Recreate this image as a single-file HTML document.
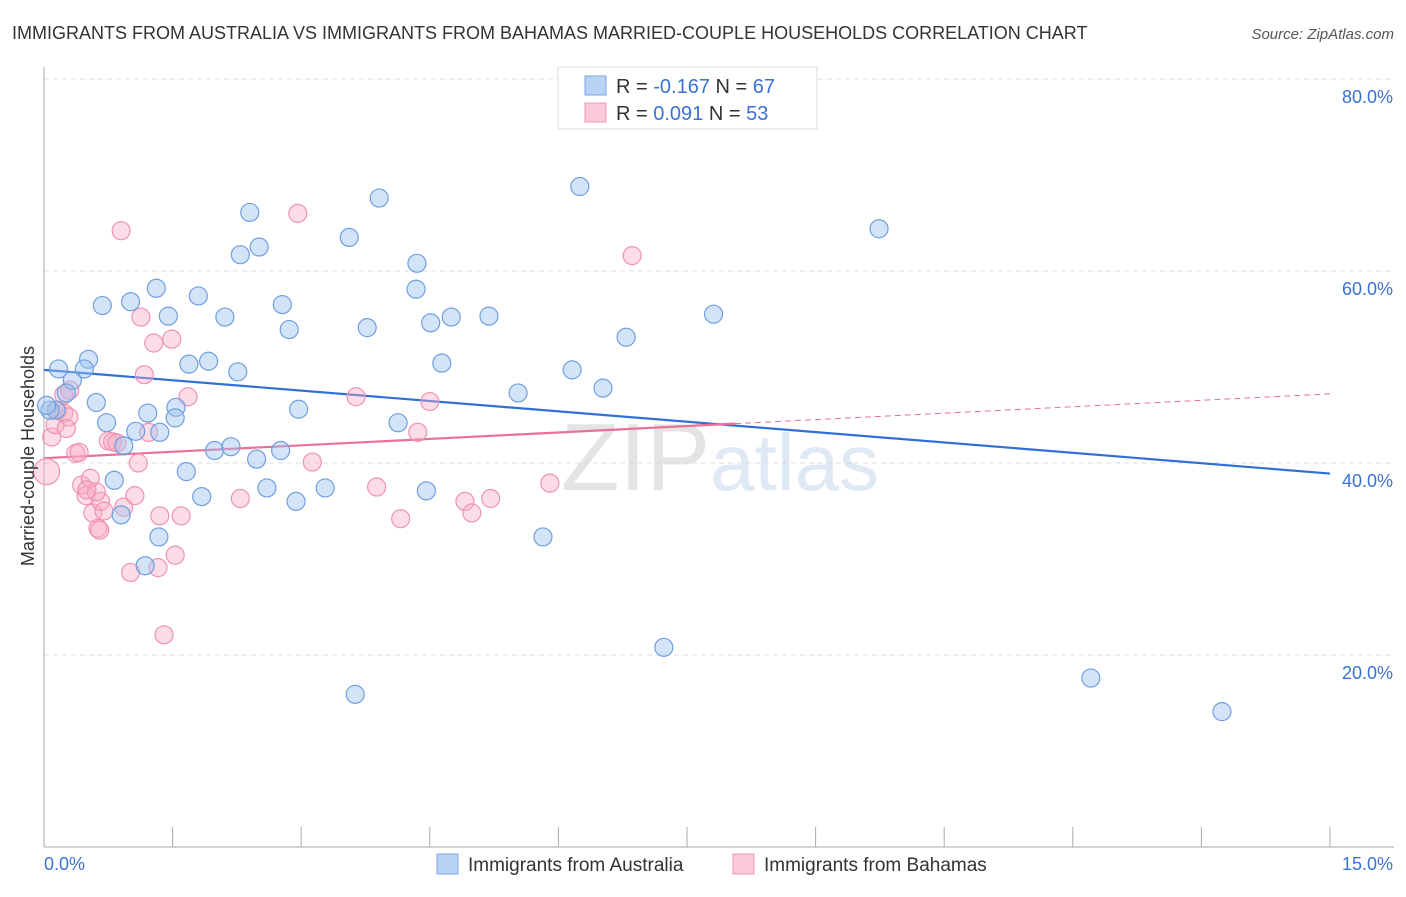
<!DOCTYPE html>
<html><head><meta charset="utf-8"><style>
body{margin:0;background:#fff;font-family:"Liberation Sans",sans-serif;}
svg text{font-family:"Liberation Sans",sans-serif;}
</style></head><body>
<svg id="chart" width="1406" height="892" viewBox="0 0 1406 892" xmlns="http://www.w3.org/2000/svg">
<text x="12" y="39" font-size="18" fill="#333">IMMIGRANTS FROM AUSTRALIA VS IMMIGRANTS FROM BAHAMAS MARRIED-COUPLE HOUSEHOLDS CORRELATION CHART</text>
<text x="1394" y="39" font-size="15" fill="#555" text-anchor="end" font-style="italic">Source: ZipAtlas.com</text>
<text x="720" y="490" font-size="96" fill="#e8ecf2" text-anchor="middle" font-family="Liberation Serif"><tspan fill="#e4e4e4">ZIP</tspan><tspan fill="#dfe8f5" font-family="Liberation Sans" font-size="80">atlas</tspan></text>
<g id="grid"></g>
<g id="axes"></g>
<g id="lines"></g>
<g id="points"></g>
<text transform="translate(34,456) rotate(-90)" font-size="18" fill="#333" text-anchor="middle">Married-couple Households</text>
<g>
<rect x="558" y="67" width="259" height="62" fill="#fff" stroke="#ddd"/>
<rect x="585" y="76" width="21" height="19" fill="#b9d3f5" stroke="#7aa6e6"/>
<rect x="585" y="103" width="21" height="19" fill="#fbc9d8" stroke="#ef9ab4"/>
<text x="616" y="93" font-size="20" fill="#333">R = <tspan fill="#3a72d4">-0.167</tspan>   N = <tspan fill="#3a72d4">67</tspan></text>
<text x="616" y="120" font-size="20" fill="#333">R = <tspan fill="#3a72d4"> 0.091</tspan>   N = <tspan fill="#3a72d4">53</tspan></text>
</g>
<g>
<rect x="437" y="854" width="21" height="20" fill="#b9d3f5" stroke="#7aa6e6"/>
<text x="468" y="871" font-size="19" fill="#333">Immigrants from Australia</text>
<rect x="733" y="854" width="21" height="20" fill="#fbc9d8" stroke="#ef9ab4"/>
<text x="764" y="871" font-size="19" fill="#333">Immigrants from Bahamas</text>
</g>
</svg>
<script>
const xTicks=[0,1.5,3,4.5,6,7.5,9,10.5,12,13.5,15];
const yTicks=[20,40,60,80];
const blueX=[0.17,0.52,0.47,0.33,0.26,0.14,0.07,0.61,0.73,0.82,0.90,0.93,1.07,1.21,1.01,0.68,1.31,1.45,1.54,1.53,1.66,1.69,1.80,1.84,1.92,1.99,2.11,2.18,2.26,2.29,2.40,2.48,2.51,2.60,2.76,2.78,2.86,2.94,2.97,3.28,3.56,3.77,3.91,4.13,4.35,4.34,4.46,4.51,4.64,4.75,5.19,5.53,5.82,6.16,6.25,6.52,6.79,7.23,7.81,9.74,12.21,13.74,3.63,1.34,1.18,0.03,1.35];
const blueY=[49.8,50.8,49.8,48.6,47.3,45.5,45.5,46.3,44.2,38.2,34.6,41.8,43.3,45.2,56.8,56.4,58.2,55.3,45.8,44.7,39.1,50.3,57.4,36.5,50.6,41.3,55.2,41.7,49.5,61.7,66.1,40.4,62.5,37.4,41.3,56.5,53.9,36.0,45.6,37.4,63.5,54.1,67.6,44.2,60.8,58.1,37.1,54.6,50.4,55.2,55.3,47.3,32.3,49.7,68.8,47.8,53.1,20.8,55.5,64.4,17.6,14.1,15.9,32.3,29.3,46.0,43.2];
const pinkX=[0.03,0.09,0.13,0.16,0.23,0.29,0.26,0.37,0.44,0.49,0.54,0.57,0.63,0.66,0.70,0.61,0.75,0.80,0.85,0.90,0.93,1.01,1.06,1.10,1.13,1.17,1.22,1.28,1.33,1.35,1.40,1.49,1.53,1.60,1.68,2.29,2.96,3.13,3.64,3.88,4.16,4.36,4.50,4.91,4.99,5.21,5.90,6.86,0.23,0.41,0.30,0.65,0.50];
const pinkY=[39.1,42.7,44.0,45.5,45.2,44.8,43.6,41.0,37.7,36.6,38.4,34.8,33.2,36.0,35.0,37.0,42.3,42.2,42.1,64.2,35.4,28.6,36.6,40.0,55.2,49.2,43.2,52.5,29.1,34.5,22.1,52.9,30.4,34.5,46.9,36.3,66.0,40.1,46.9,37.5,34.2,43.2,46.4,36.0,34.8,36.3,37.9,61.6,47.1,41.1,47.6,33.0,37.2];
const blueTrend=[49.7,38.9];
const pinkTrend=[40.5,47.2];
const pinkSolidEnd=8.06;

const NS="http://www.w3.org/2000/svg";
const X=v=>44+v/15*1286;
const Y=v=>847-v*9.6;
function mk(tag,attrs,parent){const e=document.createElementNS(NS,tag);for(const k in attrs)e.setAttribute(k,attrs[k]);parent.appendChild(e);return e;}
const grid=document.getElementById('grid'),axes=document.getElementById('axes'),lines=document.getElementById('lines'),pts=document.getElementById('points');
yTicks.forEach(t=>{
  const l=mk('line',{x1:44,x2:1394,y1:Y(t),y2:Y(t),stroke:'#ddd','stroke-dasharray':'5,4'},grid);
  
  
  const tx=mk('text',{x:1393,y:Y(t)+24,'font-size':18,fill:'#3a72d4','text-anchor':'end'},axes);
  tx.textContent=t.toFixed(1)+'%';
  
  
});
const topG=mk('line',{x1:44,x2:1394,y1:Y(80),y2:Y(80),stroke:'#ddd','stroke-dasharray':'5,4'},grid);
mk('line',{x1:44,x2:44,y1:67,y2:847,stroke:'#aaa'},axes);
mk('line',{x1:44,x2:1394,y1:847,y2:847,stroke:'#aaa'},axes);
xTicks.forEach(t=>{
  const l=mk('line',{x1:X(t),x2:X(t),y1:827,y2:847,stroke:'#aaa'},axes);
  
  
});
const xl0=mk('text',{x:44,y:870,'font-size':18,fill:'#3a72d4'},axes);xl0.textContent=xTicks[0].toFixed(1)+'%';


const xl1=mk('text',{x:1393,y:870,'font-size':18,fill:'#3a72d4','text-anchor':'end'},axes);xl1.textContent=xTicks[xTicks.length-1].toFixed(1)+'%';



pinkX.forEach((x,i)=>{
  const c=mk('circle',{cx:X(x),cy:Y(pinkY[i]),r:i===0?13:9,fill:'rgba(247,170,195,0.4)',stroke:'#ee93b1','stroke-width':1.2},pts);
  
  
});
blueX.forEach((x,i)=>{
  const c=mk('circle',{cx:X(x),cy:Y(blueY[i]),r:9,fill:'rgba(160,196,240,0.45)',stroke:'#6f9fe0','stroke-width':1.2},pts);
  
  
});
const bl=mk('line',{x1:X(0),y1:Y(blueTrend[0]),x2:X(15),y2:Y(blueTrend[1]),stroke:'#2f6fd6','stroke-width':2.2},lines);


const pAt=x=>pinkTrend[0]+(pinkTrend[1]-pinkTrend[0])*x/15;
const pl=mk('line',{x1:X(0),y1:Y(pAt(0)),x2:X(pinkSolidEnd),y2:Y(pAt(pinkSolidEnd)),stroke:'#e8709a','stroke-width':2.2},lines);


const pd=mk('line',{x1:X(pinkSolidEnd),y1:Y(pAt(pinkSolidEnd)),x2:X(15),y2:Y(pAt(15)),stroke:'#e8709a','stroke-width':1,'stroke-dasharray':'6,4'},lines);


</script>
</body></html>
